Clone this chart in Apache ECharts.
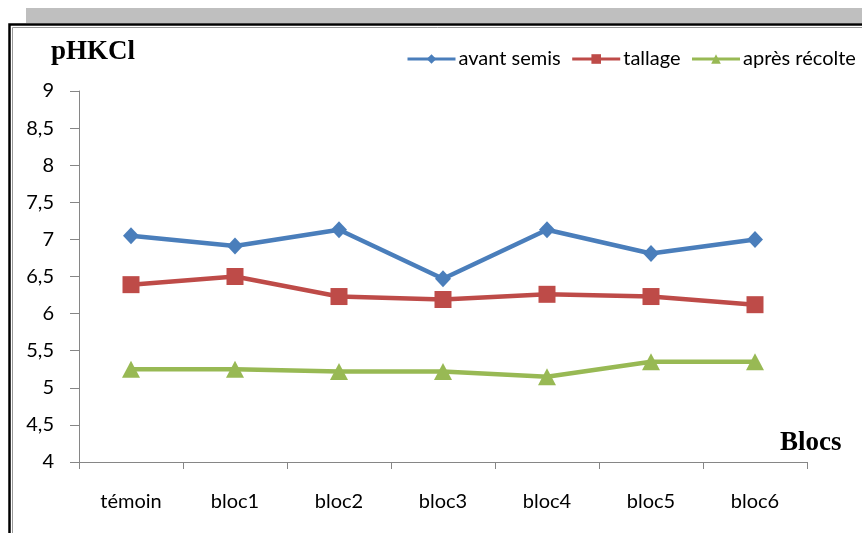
<!DOCTYPE html>
<html>
<head>
<meta charset="utf-8">
<script src="https://cdn.jsdelivr.net/npm/echarts@6/dist/echarts.min.js"></script>
<style>
html,body{margin:0;padding:0;background:#fff;}
#c{width:862px;height:533px;}
</style>
</head>
<body>
<div id="c"></div>
<script>
const categories = ['témoin', 'bloc1', 'bloc2', 'bloc3', 'bloc4', 'bloc5', 'bloc6'];
const avantSemis = [7.05, 6.91, 7.13, 6.47, 7.13, 6.81, 7.00];
const tallage = [6.39, 6.50, 6.23, 6.19, 6.26, 6.23, 6.12];
const apresRecolte = [5.25, 5.25, 5.22, 5.22, 5.15, 5.35, 5.35];
const seriesNames = ['avant semis', 'tallage', 'après récolte'];
const yMin = 4, yMax = 9, yStep = 0.5;

const FONT = 'Lato';
const chart = echarts.init(document.getElementById('c'), null, {renderer: 'canvas'});
const colors = ['#4A7EBB', '#BE4B48', '#98B954'];

chart.setOption({
  backgroundColor: '#ffffff',
  animation: false,
  color: colors,
  grid: {left: 79, right: 55, top: 91, bottom: 71, containLabel: false},
  legend: {
    left: 401, top: 44,
    itemWidth: 48, itemHeight: 12, itemGap: 10,
    lineStyle: {width: 3},
    textStyle: {fontFamily: FONT, fontSize: 20, color: '#000', padding: [0, 0, 0, -2]},
    data: seriesNames
  },
  xAxis: {
    type: 'category',
    data: categories,
    boundaryGap: true,
    axisLine: {lineStyle: {color: '#868686', width: 1}},
    axisTick: {show: true, length: 7, lineStyle: {color: '#868686'}},
    axisLabel: {fontFamily: FONT, fontSize: 20, color: '#000', margin: 30}
  },
  yAxis: {
    type: 'value',
    min: yMin, max: yMax, interval: yStep,
    axisLine: {show: true, lineStyle: {color: '#868686', width: 1}},
    axisTick: {show: true, length: 9, lineStyle: {color: '#868686'}},
    splitLine: {show: false},
    axisLabel: {
      fontFamily: FONT, fontSize: 20, color: '#000', margin: 25,
      formatter: v => String(v).replace('.', ',')
    }
  },
  series: [
    {name: seriesNames[0], type: 'line', data: avantSemis, symbol: 'diamond', symbolSize: [16, 17],
     lineStyle: {width: 4.5}, itemStyle: {color: colors[0]}},
    {name: seriesNames[1], type: 'line', data: tallage, symbol: 'rect', symbolSize: 17,
     lineStyle: {width: 4.5}, itemStyle: {color: colors[1]}},
    {name: seriesNames[2], type: 'line', data: apresRecolte, symbol: 'triangle', symbolSize: [18, 17],
     lineStyle: {width: 4.5}, itemStyle: {color: colors[2]}}
  ],
  graphic: [
    {type: 'rect', shape: {x: 26, y: 8, width: 840, height: 15}, style: {fill: '#BFBFBF'}, silent: true},
    {type: 'rect', shape: {x: 9.5, y: 24.5, width: 900, height: 560}, style: {fill: 'none', stroke: '#000', lineWidth: 2.5}, silent: true},
    {type: 'rect', shape: {x: 12.5, y: 27.5, width: 900, height: 560}, style: {fill: 'none', stroke: '#9a9a9a', lineWidth: 1}, silent: true},
    {type: 'text', left: 51, top: 39, style: {text: 'pHKCl', font: 'bold 27px "Liberation Serif"', fill: '#000'}, silent: true},
    {type: 'text', left: 780, top: 430, style: {text: 'Blocs', font: 'bold 27px "Liberation Serif"', fill: '#000'}, silent: true}
  ]
});
</script>
</body>
</html>
